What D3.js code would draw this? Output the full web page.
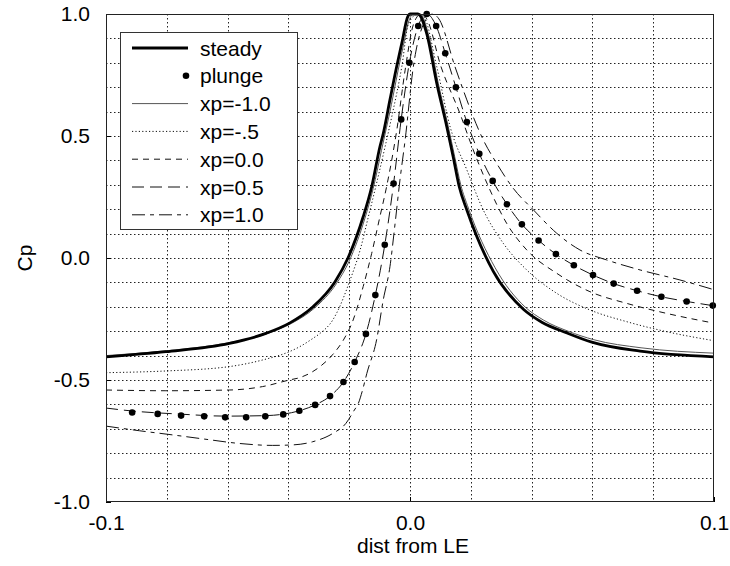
<!DOCTYPE html>
<html>
<head>
<meta charset="utf-8">
<script src="https://cdn.jsdelivr.net/npm/d3@7"></script>
<style>
  body { margin: 0; background: #fff; }
  svg text { font-family: "Liberation Sans", Arial, sans-serif; fill: #000; }
</style>
</head>
<body>
<svg id="chart" width="730" height="566"></svg>
<script>
// steady
var steadyX = [-0.1, -0.0803, -0.0594, -0.0474, -0.0395, -0.0319, -0.0247, -0.0204, -0.0154, -0.0126, -0.0099, -0.0088, -0.0066, -0.0044, -0.0027, -0.0007, 0, 0.0026, 0.0055, 0.0088, 0.0121, 0.0142, 0.0162, 0.0187, 0.0274, 0.0373, 0.0435, 0.0514, 0.0598, 0.0757, 0.1];
var steadyCp = [-0.405, -0.384, -0.35, -0.309, -0.266, -0.2, -0.098, 0.0, 0.169, 0.292, 0.456, 0.51, 0.648, 0.784, 0.88, 0.99, 1.0, 1.0, 0.92, 0.716, 0.538, 0.415, 0.292, 0.197, -0.055, -0.21, -0.264, -0.306, -0.345, -0.382, -0.405];

// plunge (markers)
var plungeX = [-0.0914, -0.083, -0.0753, -0.0677, -0.0608, -0.0539, -0.0476, -0.0417, -0.0364, -0.0312, -0.0263, -0.0219, -0.0182, -0.0145, -0.0114, -0.0083, -0.0054, -0.0029, -0.0002, 0.0027, 0.0055, 0.0086, 0.0116, 0.0151, 0.0187, 0.0228, 0.0272, 0.0319, 0.0368, 0.0423, 0.048, 0.0539, 0.0602, 0.067, 0.0747, 0.0827, 0.091, 0.0996];
var plungeCp = [-0.633, -0.639, -0.646, -0.649, -0.653, -0.653, -0.649, -0.641, -0.626, -0.602, -0.566, -0.508, -0.426, -0.311, -0.152, 0.054, 0.305, 0.568, 0.8, 0.951, 1.0, 0.951, 0.839, 0.7, 0.557, 0.427, 0.316, 0.22, 0.138, 0.072, 0.016, -0.03, -0.07, -0.105, -0.134, -0.159, -0.178, -0.195];

// xp=-1.0
var xpM10X = [-0.1, -0.08, -0.06, -0.047, -0.039, -0.0314, -0.0242, -0.0199, -0.0149, -0.0121, -0.0094, -0.0061, -0.0039, -0.0022, -0.0003, 0.0012, 0.0034, 0.006, 0.0093, 0.0126, 0.0147, 0.0167, 0.0192, 0.028, 0.0378, 0.044, 0.052, 0.0605, 0.076, 0.1];
var xpM10Cp = [-0.40, -0.38, -0.348, -0.31, -0.268, -0.205, -0.105, -0.01, 0.16, 0.285, 0.44, 0.63, 0.77, 0.87, 0.975, 1.0, 1.0, 0.92, 0.716, 0.538, 0.415, 0.3, 0.205, -0.04, -0.2, -0.255, -0.3, -0.335, -0.368, -0.39];

// xp=-.5
var xpM05X = [-0.1, -0.0803, -0.0594, -0.0485, -0.0397, -0.0362, -0.032, -0.0296, -0.0254, -0.0241, -0.0197, -0.0164, -0.0137, -0.011, -0.0082, -0.006, -0.0027, -0.0005, 0.0026, 0.0045, 0.0088, 0.0132, 0.0187, 0.0241, 0.0307, 0.0384, 0.0483, 0.0592, 0.0713, 0.0844, 0.1];
var xpM05Cp = [-0.47, -0.463, -0.445, -0.418, -0.384, -0.363, -0.33, -0.309, -0.254, -0.225, -0.09, 0.033, 0.169, 0.306, 0.456, 0.579, 0.784, 0.96, 1.0, 0.99, 0.784, 0.538, 0.361, 0.197, 0.06, -0.049, -0.145, -0.213, -0.261, -0.302, -0.339];

// xp=0.0
var xp00X = [-0.1, -0.0803, -0.0594, -0.0485, -0.0397, -0.0362, -0.0296, -0.0253, -0.0219, -0.0187, -0.0154, -0.0126, -0.0099, -0.0077, -0.006, -0.0044, -0.0016, 0.0012, 0.0036, 0.0055, 0.0102, 0.0164, 0.0208, 0.0263, 0.0318, 0.0384, 0.0483, 0.0592, 0.0713, 0.0844, 0.1];
var xp00Cp = [-0.541, -0.544, -0.541, -0.527, -0.5, -0.49, -0.445, -0.394, -0.336, -0.254, -0.117, 0.019, 0.169, 0.292, 0.402, 0.52, 0.77, 0.96, 1.0, 0.98, 0.784, 0.593, 0.443, 0.279, 0.142, 0.033, -0.063, -0.138, -0.186, -0.227, -0.267];

// xp=0.5
var xp05X = [-0.1, -0.0914, -0.0753, -0.0608, -0.0476, -0.0417, -0.0364, -0.0312, -0.0263, -0.0219, -0.0182, -0.0145, -0.0114, -0.0083, -0.0054, -0.0029, -0.0002, 0.0027, 0.0055, 0.0086, 0.0116, 0.0151, 0.0187, 0.0228, 0.0272, 0.0319, 0.0368, 0.0423, 0.048, 0.0539, 0.0602, 0.067, 0.0747, 0.0827, 0.091, 0.1];
var xp05Cp = [-0.615, -0.627, -0.64, -0.648, -0.646, -0.64, -0.626, -0.602, -0.566, -0.508, -0.426, -0.311, -0.152, 0.054, 0.305, 0.568, 0.8, 0.951, 1.0, 0.951, 0.839, 0.7, 0.557, 0.427, 0.316, 0.22, 0.138, 0.072, 0.016, -0.03, -0.07, -0.105, -0.134, -0.159, -0.178, -0.196];

// xp=1.0
var xp10X = [-0.1, -0.089, -0.0781, -0.0671, -0.0562, -0.0452, -0.0386, -0.032, -0.0254, -0.0211, -0.0183, -0.017, -0.0156, -0.0142, -0.011, -0.0088, -0.0066, -0.0049, -0.0033, -0.0016, 0.0011, 0.0045, 0.0075, 0.0095, 0.0148, 0.0187, 0.0208, 0.0241, 0.0285, 0.034, 0.0406, 0.0483, 0.0559, 0.0647, 0.0757, 0.0888, 0.1];
var xp10Cp = [-0.689, -0.708, -0.725, -0.743, -0.76, -0.768, -0.766, -0.753, -0.719, -0.678, -0.623, -0.596, -0.541, -0.473, -0.336, -0.172, -0.036, 0.142, 0.32, 0.484, 0.784, 0.96, 1.0, 0.98, 0.784, 0.648, 0.579, 0.484, 0.388, 0.285, 0.197, 0.101, 0.033, -0.008, -0.049, -0.09, -0.13];

var xTickLabels = [-0.1, 0.0, 0.1];
var yTickLabels = [1.0, 0.5, 0.0, -0.5, -1.0];
var legendLabels = ["steady", "plunge", "xp=-1.0", "xp=-.5", "xp=0.0", "xp=0.5", "xp=1.0"];

var svg = d3.select("#chart");

var x = d3.scaleLinear().domain([-0.1, 0.1]).range([106, 714]);
var y = d3.scaleLinear().domain([-1, 1]).range([502, 14]);

// dotted grid
var grid = svg.append("g");
grid.selectAll("line.gx")
  .data(d3.range(-0.08, 0.09, 0.02))
  .enter().append("line")
  .attr("x1", d => Math.round(x(d)) + 0.5).attr("x2", d => Math.round(x(d)) + 0.5)
  .attr("y1", 14).attr("y2", 502)
  .attr("stroke", "#222").attr("stroke-dasharray", "1.5,2.5");
grid.selectAll("line.gy")
  .data(d3.range(-0.9, 0.95, 0.1))
  .enter().append("line")
  .attr("y1", d => Math.round(y(d)) + 0.5).attr("y2", d => Math.round(y(d)) + 0.5)
  .attr("x1", 106).attr("x2", 714)
  .attr("stroke", "#222").attr("stroke-dasharray", "1.5,2.5");

// axes
var xAxis = d3.axisBottom(x).tickValues(xTickLabels).tickSizeInner(-5).tickSizeOuter(0)
  .tickPadding(13).tickFormat(d3.format(".1f"));
var gx = svg.append("g").attr("transform", "translate(0,502)").call(xAxis);
var yAxis = d3.axisLeft(y).tickValues(yTickLabels).tickSizeInner(-5).tickSizeOuter(0)
  .tickPadding(16).tickFormat(d3.format(".1f"));
var gy = svg.append("g").attr("transform", "translate(106,0)").call(yAxis);
[gx, gy].forEach(function(g) {
  g.select(".domain").remove();
  g.selectAll("text").attr("font-size", 21).attr("font-family", null);
});
gx.selectAll("text").text(d => d3.format(".1f")(d).replace("−", "-"));
gy.selectAll("text").text(d => d3.format(".1f")(d).replace("−", "-"));

svg.append("clipPath").attr("id", "plot")
  .append("rect").attr("x", 106).attr("y", 12).attr("width", 608).attr("height", 490);

var line = d3.line()
  .x(d => x(d[0]))
  .y(d => y(d[1]))
  .curve(d3.curveMonotoneX);

var series = [
  { xs: xpM10X, cps: xpM10Cp, width: 1, dash: null, color: "#555" },
  { xs: xpM05X, cps: xpM05Cp, width: 1, dash: "1.2,2.2", color: "#111" },
  { xs: xp00X, cps: xp00Cp, width: 1, dash: "6,5", color: "#111" },
  { xs: xp05X, cps: xp05Cp, width: 1, dash: "12,6", color: "#111" },
  { xs: xp10X, cps: xp10Cp, width: 1, dash: "13,5,4,5", color: "#111" },
  { xs: steadyX, cps: steadyCp, width: 2.8, dash: null, color: "#000" }
];

var lines = svg.append("g").attr("clip-path", "url(#plot)");
series.forEach(function(s) {
  lines.append("path")
    .datum(s.xs.map((v, i) => [v, s.cps[i]]))
    .attr("d", line)
    .attr("fill", "none")
    .attr("stroke", s.color)
    .attr("stroke-width", s.width)
    .attr("stroke-dasharray", s.dash);
});

svg.append("g").selectAll("circle")
  .data(plungeX.map((v, i) => [v, plungeCp[i]]))
  .enter().append("circle")
  .attr("cx", d => x(d[0]))
  .attr("cy", d => y(d[1]))
  .attr("r", 3.3)
  .attr("fill", "#000");

// frame
svg.append("rect")
  .attr("x", 106.5).attr("y", 14.5).attr("width", 607).attr("height", 487)
  .attr("fill", "none").attr("stroke", "#222");

// axis titles
svg.append("text")
  .attr("x", 413).attr("y", 553)
  .attr("text-anchor", "middle").attr("font-size", 21)
  .text("dist from LE");
svg.append("text")
  .attr("transform", "translate(32,258) rotate(-90)")
  .attr("text-anchor", "middle").attr("font-size", 21)
  .text("Cp");

// legend
var leg = svg.append("g");
leg.append("rect")
  .attr("x", 120.5).attr("y", 32.5).attr("width", 177).attr("height", 197)
  .attr("fill", "#fff").attr("stroke", "#333");
var legStyles = [
  { width: 2.8, dash: null, color: "#000" },
  null,
  { width: 1, dash: null, color: "#555" },
  { width: 1, dash: "1.2,2.2", color: "#111" },
  { width: 1, dash: "6,5", color: "#111" },
  { width: 1, dash: "12,6", color: "#111" },
  { width: 1, dash: "13,5,4,5", color: "#111" }
];
legendLabels.forEach(function(lab, i) {
  var cy = 48 + i * 27.8;
  var st = legStyles[i];
  if (st) {
    leg.append("line")
      .attr("x1", 132).attr("x2", 188).attr("y1", cy).attr("y2", cy)
      .attr("stroke", st.color).attr("stroke-width", st.width)
      .attr("stroke-dasharray", st.dash);
  } else {
    leg.append("circle").attr("cx", 186).attr("cy", cy).attr("r", 3.3).attr("fill", "#000");
  }
  leg.append("text")
    .attr("x", 200).attr("y", cy + 7.5)
    .attr("font-size", 21)
    .text(lab);
});
</script>
</body>
</html>
